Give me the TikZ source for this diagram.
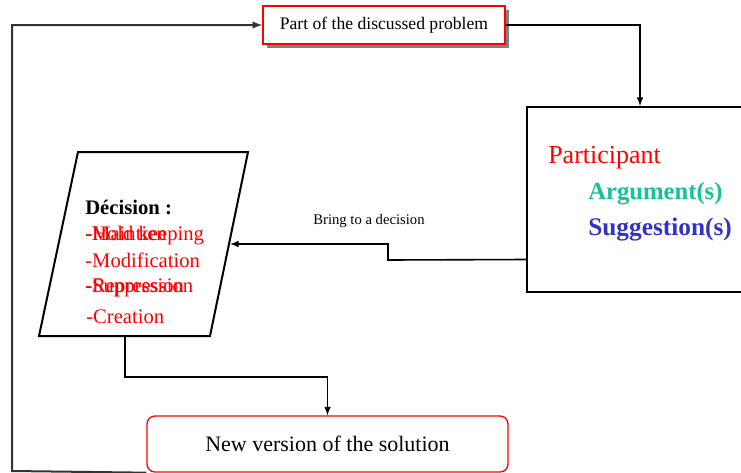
\documentclass[tikz,border=0pt]{standalone}
\usepackage{fontspec}
\setmainfont{Liberation Serif}
\newfontfamily\tnr{Liberation Serif}
\usetikzlibrary{shadows}
\definecolor{argteal}{RGB}{20,195,150}
\definecolor{sugblue}{RGB}{50,50,200}
\tikzset{
  conn/.style={black, line width=1.2pt, ->, >=latex},
  redbox/.style={draw=red, line width=1pt, fill=white, inner sep=0pt},
  item/.style={anchor=base west, inner sep=0pt, text=red, font=\tnr\fontsize{15.5}{18}\selectfont}
}
\begin{document}
\begin{tikzpicture}[x=0.75pt, y=-0.75pt]
\useasboundingbox (0,0) rectangle (741,472);
% boxes
\node[redbox, minimum width=181.5pt, minimum height=28.5pt, drop shadow={shadow xshift=3pt, shadow yshift=-3pt, fill=gray, opacity=1}, font=\tnr\fontsize{13.2}{15}\selectfont] (problem) at (384,25) {Part of the discussed problem};
\node[draw, line width=1.5pt, minimum width=163.5pt, minimum height=138.75pt] (participant) at (636,199.5) {};
\node[redbox, rounded corners=6pt, minimum width=270.75pt, minimum height=42pt, font=\tnr\fontsize{16.5}{19}\selectfont] (newsol) at (327.5,444) {New version of the solution};
\draw[line width=1.5pt] (78,152) -- (248,152) -- (210,336) -- (39,336) -- cycle;
\coordinate (decin) at (230,244);
\coordinate (decout) at (125,336);
\coordinate (loop) at (12,471);
% participant texts
\node[anchor=base west, inner sep=0pt, text=red, font=\tnr\fontsize{19.5}{22}\selectfont] (part) at (548,163) {Participant};
\node[anchor=base west, inner sep=0pt, text=argteal, font=\tnr\bfseries\fontsize{18.5}{22}\selectfont] (arg) at (588,199) {Argument(s)};
\node[anchor=base west, inner sep=0pt, text=sugblue, font=\tnr\bfseries\fontsize{19}{22}\selectfont] (sug) at (588,235) {Suggestion(s)};
% decision texts
\node[item, text=black, font=\tnr\bfseries\fontsize{15.5}{18}\selectfont] (dec) at (85,214) {Décision :};
\node[item] (hold) at (85,240) {-Hold keeping};
\node[item] (maint) at (85,240) {-Maintien};
\node[item] (modif) at (85,267) {-Modification};
\node[item] (suppr) at (85,292) {-Suppression};
\node[item] (repr) at (85,292) {-Repression};
\node[item] (creat) at (86,323) {-Creation};
\node[font=\tnr\fontsize{11}{13}\selectfont] (bring) at (369,221) {Bring to a decision};
% connectors
\draw[conn] (problem.east) -| ([xshift=3pt]participant.north);
\draw[conn] ([yshift=-45pt]participant.west) -- (388,260) |- (decin);
\draw[conn] (decout) -- (125,377) -| (newsol.north);
\draw[conn, line width=1.5pt, draw=black!80] (newsol.south west) -- (loop) |- (problem.west);
\end{tikzpicture}
\end{document}
